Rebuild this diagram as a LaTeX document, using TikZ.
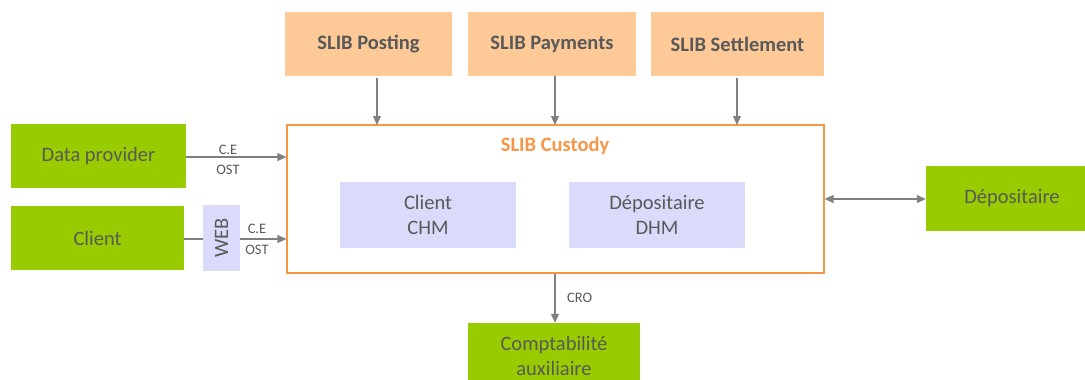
\documentclass[tikz,border=0pt]{standalone}
\usepackage{fontspec}
\setmainfont{Carlito}
\usetikzlibrary{arrows.meta}
\definecolor{peach}{RGB}{252,201,151}
\definecolor{lgreen}{RGB}{153,204,0}
\definecolor{lav}{RGB}{218,218,250}
\definecolor{orng}{RGB}{247,150,70}
\definecolor{txt}{RGB}{89,89,89}
\definecolor{arr}{RGB}{128,128,128}
\begin{document}
\begin{tikzpicture}[x=1pt,y=-1pt,
  slib/.style={fill=peach,draw=none,text=txt,font=\fontsize{20.5}{22}\selectfont\bfseries},
  gbox/.style={fill=lgreen,draw=none,text=txt,font=\fontsize{20.5}{25}\selectfont,align=center},
  lbox/.style={fill=lav,draw=none,text=txt,font=\fontsize{20.5}{25}\selectfont,align=center},
  conn/.style={draw=arr,line width=1.2pt,-{Triangle[length=9pt,width=8pt]}},
  lbl/.style={text=txt,font=\fontsize{14.5}{16}\selectfont,inner sep=1pt}]
\useasboundingbox (0,0) rectangle (1085,380);
% top boxes
\node[slib,minimum width=167pt,minimum height=64pt] (post) at (368.5,44) {SLIB Posting};
\node[slib,minimum width=168pt,minimum height=64pt] (pay) at (552,44) {SLIB Payments};
\node[slib,minimum width=173pt,minimum height=64pt] (sett) at (737.5,44) {SLIB Settlement};
% custody
\node[draw=orng,line width=1.2pt,minimum width=537pt,minimum height=148pt] (cust) at (555.5,199) {};
\node[text=orng,font=\fontsize{20.5}{22}\selectfont\bfseries] (custt) at (555,146) {SLIB Custody};
\node[lbox,minimum width=176pt,minimum height=66pt] (chm) at (428,215) {Client\\CHM};
\node[lbox,minimum width=176pt,minimum height=66pt] (dhm) at (657,215) {Dépositaire\\DHM};
% left
\node[gbox,minimum width=175pt,minimum height=64pt] (dp) at (98.5,156) {Data provider};
\node[gbox,minimum width=173pt,minimum height=64pt] (cl) at (97.5,238) {Client};
\node[lbox,minimum width=66pt,minimum height=37pt,inner sep=0pt,rotate=90] (web) at (221.5,238) {WEB};
% right
\node[gbox,minimum width=172pt,minimum height=65pt] (dep) at (1012,198) {Dépositaire};
% bottom
\node[gbox,minimum width=172pt,minimum height=66pt] (comp) at (554,356) {Comptabilité\\auxiliaire};
% connectors
\coordinate (pa) at (377,78); \coordinate (pb) at (377,125);
\coordinate (ya) at (555,76); \coordinate (yb) at (555,125);
\coordinate (sa) at (737,78); \coordinate (sb) at (737,125);
\draw[conn] (pa) -- (pb);
\draw[conn] (ya) -- (yb);
\draw[conn] (sa) -- (sb);
\draw[conn] (dp.east |- 0,157) -- (cust.west |- 0,157);
\node[lbl] (ce1) at (228,150) {C.E};
\node[lbl] (ost1) at (228,170) {OST};
\draw[draw=arr,line width=1.2pt] (cl.east |- 0,239) -- (web.north |- 0,239);
\draw[conn] (web.south |- 0,239) -- (cust.west |- 0,239);
\node[lbl] (ce2) at (257,229) {C.E};
\node[lbl] (ost2) at (257,250) {OST};
\draw[draw=arr,line width=1.2pt,{Triangle[length=9pt,width=8pt]}-{Triangle[length=9pt,width=8pt]}] (cust.east |- 0,199) -- (dep.west |- 0,199);
\draw[conn] (cust.south -| 555,0) -- (comp.north -| 555,0);
\node[lbl,anchor=west] (cro) at (566,298) {CRO};
\end{tikzpicture}
\end{document}
